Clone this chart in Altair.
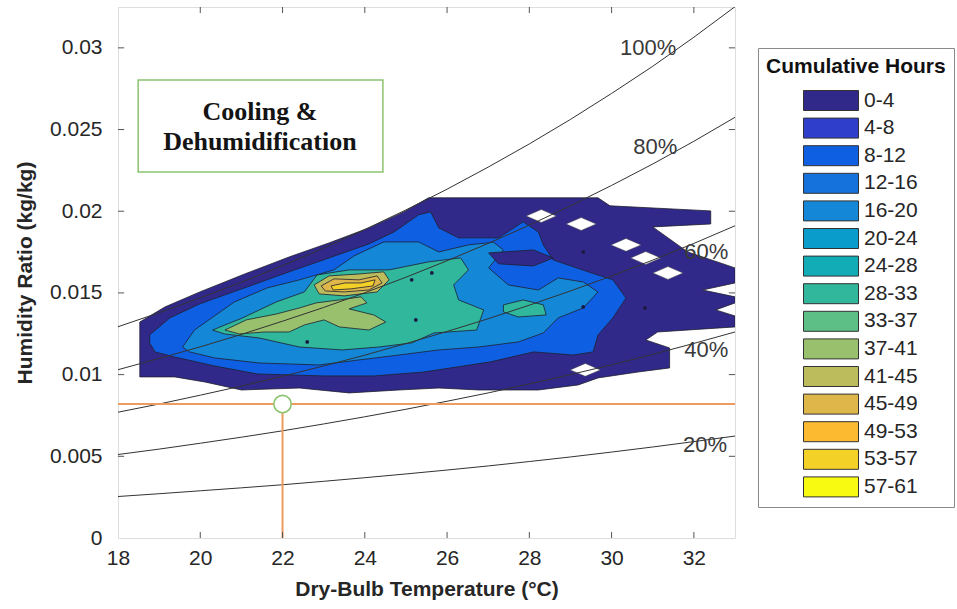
import altair as alt
import pandas as pd

# ---------------- legend (cumulative hours bins) ----------------
LEVELS = ["0-4", "4-8", "8-12", "12-16", "16-20", "20-24", "24-28", "28-33",
          "33-37", "37-41", "41-45", "45-49", "49-53", "53-57", "57-61"]
LEVEL_COLORS = ["#30298a", "#2f3fcc", "#0f5fe3", "#1572dc", "#1487d6", "#0a9dcc",
                "#11acb5", "#30b79c", "#5dbf85", "#99c06c", "#bdbc5c", "#dfb64a",
                "#fcba30", "#f4d126", "#f8fa12"]
COLOR_OF = dict(zip(LEVELS, LEVEL_COLORS))

# ---------------- axes ----------------
X_TICKS = [18, 20, 22, 24, 26, 28, 30, 32]
Y_TICKS = [0, 0.005, 0.01, 0.015, 0.02, 0.025, 0.03]
X_DOMAIN = [18, 33]
Y_DOMAIN = [0, 0.0325]

# ---------------- relative-humidity curves (humidity ratio, g/kg) ----------------
RH_T = [18, 19, 20, 21, 22, 23, 24, 25, 26, 27, 28, 29, 30, 31, 32, 33]
RH100 = [12.93, 13.79, 14.70, 15.65, 16.67, 17.74, 18.88, 20.08, 21.35, 22.70, 24.12, 25.62, 27.21, 28.87, 30.65, 32.52]
RH80 = [10.30, 10.99, 11.70, 12.46, 13.27, 14.11, 15.01, 15.96, 16.97, 18.03, 19.15, 20.33, 21.58, 22.89, 24.28, 25.75]
RH60 = [7.70, 8.20, 8.74, 9.30, 9.90, 10.53, 11.19, 11.90, 12.64, 13.42, 14.25, 15.12, 16.04, 17.01, 18.03, 19.11]
RH40 = [5.11, 5.44, 5.80, 6.17, 6.56, 6.98, 7.42, 7.88, 8.37, 8.88, 9.43, 10.00, 10.60, 11.24, 11.91, 12.61]
RH20 = [2.54, 2.71, 2.89, 3.07, 3.26, 3.47, 3.69, 3.92, 4.16, 4.41, 4.68, 4.96, 5.26, 5.57, 5.90, 6.24]
RH_LABELS = ["100%", "80%", "60%", "40%", "20%"]
RH_LABEL_T = [30.89, 31.06, 32.30, 32.30, 32.27]
RH_LABEL_W = [29.96, 23.93, 17.50, 11.51, 5.69]

# ---------------- contour regions (T in degC, W in g/kg) ----------------
NAVY_T = [18.53, 19.14, 19.99, 21.08, 22.16, 23.13, 24.10, 24.95, 25.55, 29.67, 29.96, 32.41, 32.41, 31.00,
          31.85, 33.0, 33.0, 32.21, 33.0, 33.0, 32.53, 33.0, 33.0, 31.12, 30.83, 31.41, 31.41, 30.64, 29.67,
          29.19, 28.22, 26.77, 25.80, 24.83, 23.62, 22.41, 21.00, 20.11, 19.38, 18.53]
NAVY_W = [13.22, 14.14, 15.06, 16.16, 17.20, 18.06, 18.98, 19.96, 20.82, 20.82, 20.33, 20.02, 19.22, 19.04,
          17.51, 16.53, 15.61, 15.18, 14.76, 14.39, 13.96, 13.59, 12.92, 12.61, 12.12, 11.63, 10.41, 10.16, 9.80,
          9.37, 9.06, 9.06, 9.18, 9.06, 8.88, 9.18, 9.06, 9.55, 9.86, 9.86]

BLUE_T = [18.77, 19.26, 19.99, 21.08, 22.16, 23.13, 24.10, 24.71, 25.31, 25.60, 25.80, 26.28, 27.25, 27.85,
          28.22, 28.34, 28.58, 29.43, 30.03, 30.35, 30.03, 29.67, 29.55, 29.07, 28.10, 27.06, 25.43, 24.22,
          23.01, 21.39, 20.35, 19.38, 18.90, 18.77]
BLUE_W = [12.43, 13.47, 14.33, 15.31, 16.29, 17.14, 18.00, 18.73, 19.78, 19.96, 18.98, 18.37, 18.37, 19.35,
          18.73, 17.94, 17.02, 16.29, 15.80, 14.69, 13.47, 12.43, 11.39, 11.20, 11.39, 10.78, 10.16, 9.92,
          9.92, 10.04, 10.53, 11.08, 11.39, 11.94]

MID_T = [19.57, 19.86, 20.83, 21.63, 22.41, 23.25, 23.74, 24.46, 25.31, 25.80, 26.52, 27.13, 27.37, 27.01,
         27.49, 28.22, 28.70, 29.31, 29.67, 29.31, 28.70, 28.34, 27.73, 26.77, 25.80, 24.83, 23.86, 22.89,
         21.44, 20.35, 19.74]
MID_W = [11.69, 12.73, 14.45, 15.31, 15.80, 16.41, 17.27, 18.12, 18.12, 17.51, 17.94, 18.10, 17.63, 16.53,
         15.49, 15.18, 15.92, 15.67, 15.06, 14.08, 13.47, 12.55, 12.00, 11.69, 11.51, 11.20, 10.90, 10.59,
         10.71, 11.02, 11.39]

TONGUE_T = [27.01, 28.10, 28.58, 28.10, 27.25]
TONGUE_W = [17.45, 17.63, 17.14, 16.65, 16.78]

TEAL_T = [20.30, 21.03, 21.85, 22.53, 22.84, 23.62, 24.59, 25.55, 26.33, 26.52, 26.16, 26.28, 26.89, 26.72,
          25.68, 25.14, 24.34, 23.45, 22.41, 21.44, 20.59]
TEAL_W = [12.73, 13.47, 14.45, 15.06, 16.10, 16.41, 16.41, 16.90, 17.14, 16.41, 15.49, 14.57, 13.96, 12.73,
          12.55, 11.94, 11.69, 11.51, 11.69, 12.24, 12.49]

TEAL2_T = [27.37, 27.85, 28.34, 28.41, 27.73, 27.37]
TEAL2_W = [14.27, 14.57, 14.27, 13.65, 13.53, 13.84]

OLIVE_T = [20.60, 21.12, 21.85, 22.41, 22.82, 23.38, 23.91, 24.05, 23.62, 24.22, 24.51, 24.10, 23.38, 23.01,
           22.53, 22.16, 21.56, 20.95]
OLIVE_W = [12.73, 13.35, 13.71, 14.08, 14.39, 14.57, 14.76, 14.39, 14.02, 13.65, 13.22, 12.73, 12.92, 13.35,
           13.04, 12.61, 12.61, 12.49]

RING_T = [22.77, 23.13, 23.86, 24.46, 24.59, 24.30, 23.50, 22.89]
RING_W = [15.49, 16.04, 16.16, 16.29, 15.80, 15.06, 14.82, 14.94]

GOLD_T = [22.94, 23.25, 23.86, 24.30, 24.42, 24.10, 23.50, 23.04]
GOLD_W = [15.43, 15.86, 15.80, 16.04, 15.61, 15.18, 15.06, 15.12]

YELLOW_T = [23.18, 23.52, 23.91, 24.25, 24.20, 23.67, 23.23]
YELLOW_W = [15.43, 15.61, 15.61, 15.80, 15.43, 15.25, 15.18]

# drawing order of the filled regions: (T, W, legend bin)
REGIONS = [
    (NAVY_T, NAVY_W, "0-4"),
    (BLUE_T, BLUE_W, "8-12"),
    (MID_T, MID_W, "16-20"),
    (TONGUE_T, TONGUE_W, "0-4"),
    (TEAL_T, TEAL_W, "28-33"),
    (TEAL2_T, TEAL2_W, "28-33"),
    (OLIVE_T, OLIVE_W, "37-41"),
    (RING_T, RING_W, "41-45"),
    (GOLD_T, GOLD_W, "45-49"),
    (YELLOW_T, YELLOW_W, "53-57"),
]

# empty grid cells (holes) inside the outer region, and tiny closed contours
HOLE_T = [28.29, 29.26, 30.35, 30.83, 31.37, 29.36]
HOLE_W = [19.71, 19.22, 17.94, 17.14, 16.22, 10.29]
DOT_T = [29.31, 30.81, 29.31, 25.14, 25.63, 25.24, 22.60]
DOT_W = [17.51, 14.08, 14.14, 15.80, 16.22, 13.35, 12.00]

# design point / annotation
POINT_T = 22.0
POINT_W = 0.0082
BOX_T = [18.49, 24.44]
BOX_W = [0.02240, 0.02803]
BOX_TEXT = "Cooling &\nDehumidification"
BOX_TEXT_T = 21.45
BOX_TEXT_W = 0.02607

TICK_LEN_T = 0.15
TICK_LEN_W = 0.00037

# ---------------- encodings ----------------
FONT = "Liberation Sans"
xscale = alt.Scale(domain=X_DOMAIN, nice=False, zero=False)
yscale = alt.Scale(domain=Y_DOMAIN, nice=False, zero=False)
xaxis = alt.Axis(values=X_TICKS, title="Dry-Bulb Temperature (°C)", domain=False, ticks=False, grid=False,
                 labelFont=FONT, labelFontSize=21, labelColor="#262626", labelPadding=9, labelFlush=False,
                 titleFont=FONT, titleFontSize=21, titleFontWeight="bold", titleColor="#262626", titlePadding=10)
yaxis = alt.Axis(values=Y_TICKS, format="~g", title="Humidity Ratio (kg/kg)", domain=False, ticks=False,
                 grid=False, labelFont=FONT, labelFontSize=21, labelColor="#262626", labelPadding=16,
                 labelFlush=False, titleFont=FONT, titleFontSize=21, titleFontWeight="bold",
                 titleColor="#262626", titlePadding=14)
X = alt.X("T:Q", scale=xscale, axis=xaxis)
Y = alt.Y("W:Q", scale=yscale, axis=yaxis)

layers = []

# filled contour regions (closed polygons)
for idx, (tt, ww, band) in enumerate(REGIONS):
    rows = [{"T": t, "W": w / 1000.0, "i": k} for k, (t, w) in enumerate(zip(tt, ww))]
    rows.append({"T": tt[0], "W": ww[0] / 1000.0, "i": len(tt)})
    layers.append(
        alt.Chart(pd.DataFrame(rows)).mark_line(
            fill=COLOR_OF[band], stroke="#1f1f2e", strokeWidth=0.8, clip=True, strokeJoin="round"
        ).encode(x=X, y=Y, order="i:Q")
    )
    if idx == 0:
        holes = pd.DataFrame({"T": HOLE_T, "W": [w / 1000.0 for w in HOLE_W]})
        layers.append(
            alt.Chart(holes).mark_point(
                shape="M-1,0L0,-0.43L1,0L0,0.43Z", size=900, filled=True, fill="white",
                stroke="#444", strokeWidth=0.5, opacity=1
            ).encode(x=X, y=Y)
        )

dots = pd.DataFrame({"T": DOT_T, "W": [w / 1000.0 for w in DOT_W]})
layers.append(alt.Chart(dots).mark_point(shape="circle", size=14, filled=True, color="#1a1a40", opacity=1)
              .encode(x=X, y=Y))

# RH curves
rh_rows = []
for lab, arr in zip(RH_LABELS, [RH100, RH80, RH60, RH40, RH20]):
    for t, w in zip(RH_T, arr):
        rh_rows.append({"rh": lab, "T": t, "W": w / 1000.0})
layers.append(alt.Chart(pd.DataFrame(rh_rows)).mark_line(color="#333333", strokeWidth=1, clip=True)
              .encode(x=X, y=Y, detail="rh:N"))

rh_lab = pd.DataFrame({"label": RH_LABELS, "T": RH_LABEL_T, "W": [w / 1000.0 for w in RH_LABEL_W]})
layers.append(alt.Chart(rh_lab).mark_text(font=FONT, fontSize=22, color="#3a3a3a", align="center",
                                          baseline="middle")
              .encode(x=X, y=Y, text="label:N"))

# orange guide lines and design point
hline = pd.DataFrame({"T": [X_DOMAIN[0]], "T2": [X_DOMAIN[1]], "W": [POINT_W]})
vline = pd.DataFrame({"T": [POINT_T], "W": [0.0], "W2": [POINT_W]})
layers.append(alt.Chart(hline).mark_rule(color="#ef9a5f", strokeWidth=2)
              .encode(x=X, x2="T2:Q", y=Y))
layers.append(alt.Chart(vline).mark_rule(color="#ef9a5f", strokeWidth=2)
              .encode(x=X, y=Y, y2="W2:Q"))
pt = pd.DataFrame({"T": [POINT_T], "W": [POINT_W]})
layers.append(alt.Chart(pt).mark_point(shape="circle", size=300, filled=True, fill="white",
                                       stroke="#8cc46e", strokeWidth=1.6, opacity=1)
              .encode(x=X, y=Y))

# annotation box
box = pd.DataFrame({"T": [BOX_T[0]], "T2": [BOX_T[1]], "W": [BOX_W[0]], "W2": [BOX_W[1]]})
layers.append(alt.Chart(box).mark_rect(fill="white", stroke="#8cc46e", strokeWidth=1.5)
              .encode(x=X, x2="T2:Q", y=Y, y2="W2:Q"))
btxt = pd.DataFrame({"label": [BOX_TEXT], "T": [BOX_TEXT_T], "W": [BOX_TEXT_W]})
layers.append(alt.Chart(btxt).mark_text(font="Liberation Serif", fontWeight="bold", fontSize=26,
                                        lineBreak="\n", lineHeight=30, align="center", baseline="middle",
                                        color="#141414")
              .encode(x=X, y=Y, text="label:N"))

# inward tick marks on all four sides
tb = []
for t in X_TICKS[1:]:
    tb.append({"T": t, "W": Y_DOMAIN[0], "W2": Y_DOMAIN[0] + TICK_LEN_W})
    tb.append({"T": t, "W": Y_DOMAIN[1], "W2": Y_DOMAIN[1] - TICK_LEN_W})
lr = []
for w in Y_TICKS[1:]:
    lr.append({"T": X_DOMAIN[0], "T2": X_DOMAIN[0] + TICK_LEN_T, "W": w})
    lr.append({"T": X_DOMAIN[1], "T2": X_DOMAIN[1] - TICK_LEN_T, "W": w})
layers.append(alt.Chart(pd.DataFrame(tb)).mark_rule(color="#555555", strokeWidth=1)
              .encode(x=X, y=Y, y2="W2:Q"))
layers.append(alt.Chart(pd.DataFrame(lr)).mark_rule(color="#555555", strokeWidth=1)
              .encode(x=X, x2="T2:Q", y=Y))

# legend driver
leg = pd.DataFrame({"band": LEVELS, "T": [X_DOMAIN[0]] * len(LEVELS), "W": [Y_DOMAIN[0]] * len(LEVELS)})
layers.append(
    alt.Chart(leg).mark_point(filled=True, opacity=0, size=1).encode(
        x=X, y=Y,
        color=alt.Color("band:N", scale=alt.Scale(domain=LEVELS, range=LEVEL_COLORS),
                        legend=alt.Legend(
                            title="Cumulative Hours", orient="none", legendX=640, legendY=41,
                            padding=8, fillColor="white", strokeColor="#8a8a8a",
                            titleFont=FONT, titleFontSize=21, titleFontWeight="bold", titleColor="#111111",
                            titlePadding=13,
                            labelFont=FONT, labelFontSize=21, labelColor="#262626", labelOffset=22.5,
                            symbolType="M-2.75,-1H2.75V1H-2.75Z", symbolSize=400, symbolOpacity=1,
                            symbolStrokeColor="#333333", symbolStrokeWidth=1, symbolOffset=54.5,
                            rowPadding=2.6, values=LEVELS))
    )
)

chart = alt.layer(*layers).properties(
    width=617, height=531,
    padding={"left": 118, "top": 7, "right": 222, "bottom": 71},
    autosize=alt.AutoSizeParams(type="none"),
).configure_view(stroke="#555555", strokeWidth=1).configure(background="white")

chart.save("out.html", embed_options={"renderer": "svg", "actions": False})
